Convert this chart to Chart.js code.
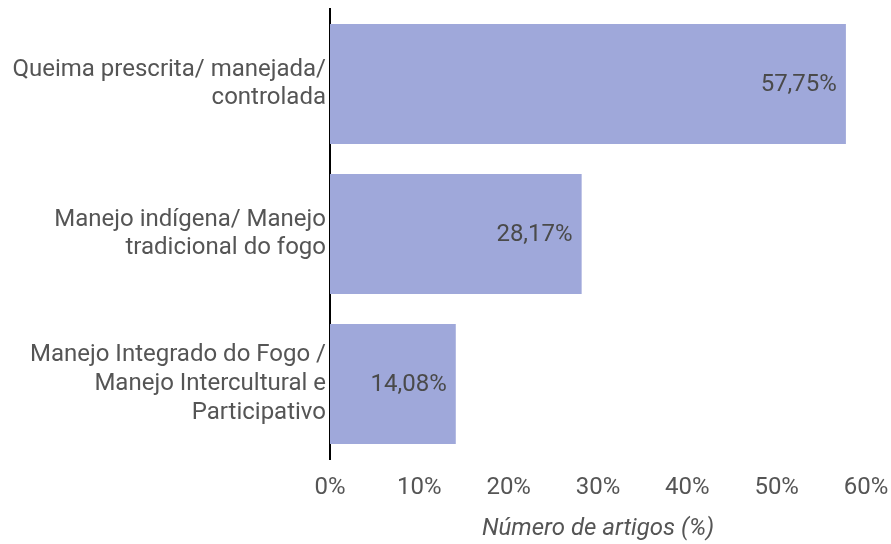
<!DOCTYPE html>
<html>
<head>
<meta charset="utf-8">
<script src="https://cdn.jsdelivr.net/npm/chart.js@4"></script>
<style>
  html, body { margin: 0; padding: 0; background: #fff; }
</style>
</head>
<body>
<canvas id="chart" width="891" height="544"></canvas>
<script>
const categories = [
  ['Queima prescrita/ manejada/', 'controlada'],
  ['Manejo indígena/ Manejo', 'tradicional do fogo'],
  ['Manejo Integrado do Fogo /', 'Manejo Intercultural e', 'Participativo']
]
const values = [57.75, 28.17, 14.08]
const xTicks = [0, 10, 20, 30, 40, 50, 60]
const axisTitle = 'Número de artigos (%)'

const fmt = v => v.toFixed(2).replace('.', ',') + '%'

// draws the value text inside the end of each bar
const valueLabels = {
  id: 'valueLabels',
  afterDatasetsDraw(chart) {
    const ctx = chart.ctx
    const meta = chart.getDatasetMeta(0)
    ctx.save()
    ctx.font = '24px Roboto'
    ctx.fillStyle = '#4a4a4a'
    ctx.textAlign = 'right'
    ctx.textBaseline = 'middle'
    meta.data.forEach((bar, i) => {
      ctx.fillText(fmt(values[i]), bar.x - 9, bar.y + 1)
    })
    ctx.restore()
  }
}

new Chart(document.getElementById('chart'), {
  type: 'bar',
  data: {
    labels: categories,
    datasets: [{
      data: values,
      backgroundColor: '#9fa8da',
      borderWidth: 0,
      barPercentage: 0.8,
      categoryPercentage: 1
    }]
  },
  options: {
    indexAxis: 'y',
    responsive: false,
    animation: false,
    layout: { padding: { top: 9, right: 25, left: 0, bottom: 0 } },
    plugins: {
      legend: { display: false },
      tooltip: { enabled: false }
    },
    scales: {
      x: {
        min: 0,
        max: 60,
        afterBuildTicks: axis => { axis.ticks = xTicks.map(v => ({ value: v })) },
        afterFit: axis => { axis.paddingLeft = 0; axis.paddingRight = 0; axis.height = 85 },
        grid: { display: false, drawTicks: false },
        border: { display: false },
        ticks: {
          padding: 15,
          color: '#555',
          font: { family: 'Roboto', size: 24, lineHeight: 1.2 },
          callback: v => v + '%',
          maxRotation: 0
        },
        title: {
          display: true,
          text: axisTitle,
          color: '#555',
          padding: { top: 10, bottom: 1 },
          font: { family: 'Roboto', size: 24, style: 'italic', lineHeight: 1.2 }
        }
      },
      y: {
        afterFit: axis => { axis.width = 330; axis.paddingTop = 0; axis.paddingBottom = 0 },
        grid: { display: false, drawTicks: false },
        border: { display: true, color: '#000', width: 2 },
        ticks: {
          padding: 4,
          color: '#555',
          font: { family: 'Roboto', size: 24, lineHeight: 1.2 }
        }
      }
    }
  },
  plugins: [valueLabels]
})
</script>
</body>
</html>
